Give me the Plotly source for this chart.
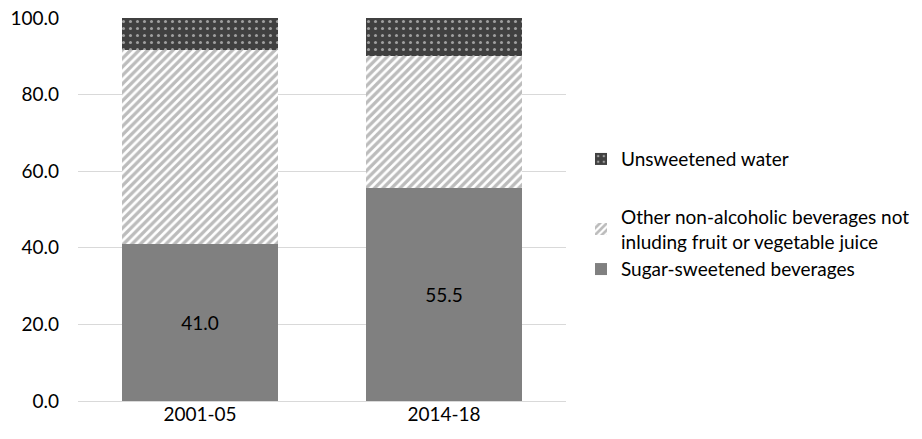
import plotly.graph_objects as go

periods = ["2001-05", "2014-18"]
sugar = [41.0, 55.5]
other = [50.6, 34.6]
water = [8.4, 9.9]
y_ticks = [0, 20, 40, 60, 80, 100]
y_tick_labels = ["0.0", "20.0", "40.0", "60.0", "80.0", "100.0"]

FONT = "Lato, 'Open Sans', sans-serif"
FS = 19

fig = go.Figure()
fig.add_trace(go.Bar(
    x=periods, y=sugar, name="Sugar-sweetened beverages",
    marker=dict(color="#808080", line=dict(width=0)),
    text=[f"{v:.1f}" for v in sugar], textposition="inside",
    insidetextanchor="middle", textfont=dict(color="#000000", size=FS, family=FONT),
    legendgroup="b", legendrank=3,
))
fig.add_trace(go.Bar(
    x=periods, y=other,
    name="Other non-alcoholic beverages not<br>inluding fruit or vegetable juice",
    marker=dict(color="#ffffff", line=dict(width=0),
                pattern=dict(shape="/", fgcolor="#7a7a7a", bgcolor="#ffffff",
                             size=6, solidity=0.55)),
    legendgroup="b", legendrank=2,
))
fig.add_trace(go.Bar(
    x=periods, y=water, name="Unsweetened water",
    marker=dict(color="#404040", line=dict(width=0),
                pattern=dict(shape=".", fgcolor="#ffffff", bgcolor="#404040",
                             size=7, solidity=0.15)),
    legendgroup="a", legendrank=1,
))

PLOT_L, PLOT_R = 78, 566
fig.update_layout(
    barmode="stack",
    bargap=0.357,
    width=922, height=439,
    margin=dict(l=PLOT_L, r=922 - PLOT_R, t=18, b=38, autoexpand=False),
    plot_bgcolor="#ffffff", paper_bgcolor="#ffffff",
    font=dict(family=FONT, size=FS, color="#000000"),
    showlegend=True,
    legend=dict(
        x=1.0 + (581 - PLOT_R) / (PLOT_R - PLOT_L), y=0.488,
        xanchor="left", yanchor="middle",
        traceorder="grouped", tracegroupgap=30,
        font=dict(size=FS, family=FONT, color="#000000"),
        itemwidth=30,
    ),
    xaxis=dict(type="category", showline=False, ticks="",
               tickfont=dict(size=FS, color="#000000"), domain=[0, 1]),
    yaxis=dict(
        range=[0, 100], tickvals=y_ticks, ticktext=y_tick_labels,
        showgrid=True, gridcolor="#d9d9d9", gridwidth=1,
        zeroline=True, zerolinecolor="#d9d9d9", zerolinewidth=1,
        showline=False, ticks="", ticklabelstandoff=18,
        tickfont=dict(size=FS, color="#000000"),
    ),
)

fig.write_html("out.html")
